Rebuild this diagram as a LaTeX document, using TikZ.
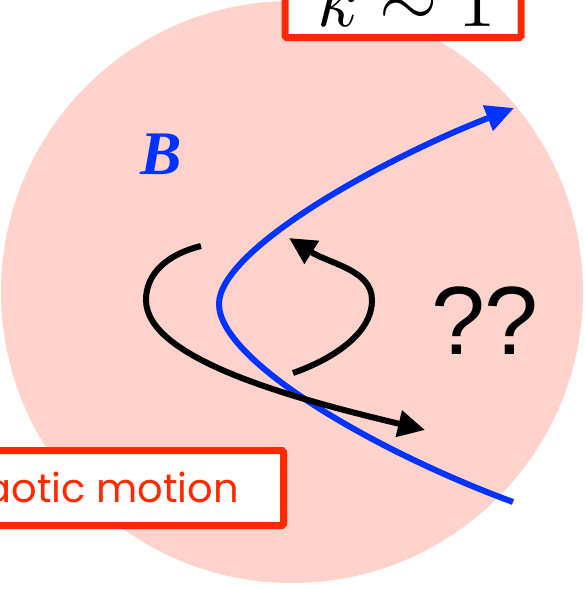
\documentclass[tikz,border=0pt]{standalone}
\usepackage{fontspec}
\newfontfamily\poppins{Poppins}
\newfontfamily\libsans{Liberation Sans}
\newfontfamily\libserif{Liberation Serif}
\usetikzlibrary{arrows.meta}
\definecolor{pinkbg}{RGB}{255,211,204}
\definecolor{boxred}{RGB}{255,40,0}
\definecolor{bblue}{RGB}{0,51,255}
\tikzset{
  redbox/.style={draw=boxred, fill=white, line width=7pt, rounded corners=1.5pt},
  fieldline/.style={draw=bblue, line width=6pt, -{Triangle[length=28pt,width=26pt]}},
  orbit/.style={draw=black, line width=6pt, line cap=butt},
  orbitarrow/.style={orbit, -{Triangle[length=27pt,width=26pt]}},
  lbl/.style={inner sep=0pt, outer sep=0pt}
}
\begin{document}
\begin{tikzpicture}[x=1pt,y=-1pt]
\useasboundingbox (0,0) rectangle (584,589);
\clip (0,0) rectangle (584,589);
\fill[pinkbg] (292,292) circle[radius=291];
% magnetic field line
\coordinate (bstart) at (513,502);
\coordinate (bturn) at (219,304);
\coordinate (bend) at (514,108);
\draw[fieldline] (bstart) .. controls (372,450) and (219,360) .. (bturn)
   .. controls (219,250) and (380,160) .. (bend);
% big orbit
\coordinate (o1s) at (201,246);
\coordinate (o1l) at (146,300);
\coordinate (o1e) at (425,430);
\draw[orbitarrow] (o1s) .. controls (165,255) and (146,275) .. (o1l)
   .. controls (146,360) and (300,400) .. (o1e);
% small loop
\coordinate (o2s) at (293,373);
\coordinate (o2r) at (372,300);
\coordinate (o2e) at (289,238);
\draw[orbitarrow] (o2s) .. controls (330,360) and (372,335) .. (o2r)
   .. controls (372,270) and (330,264) .. (o2e);
% labels
\node[lbl, anchor=base west, text=bblue] (B) at (140,174)
  {\fontsize{62}{62}\selectfont\libserif\bfseries\itshape B};
\node[lbl, anchor=base west] (qq) at (431,354)
  {\fontsize{97}{97}\selectfont\libsans ??};
% top box
\draw[redbox] (285,-20) rectangle (521,37.5);
\node[lbl, anchor=base] (kappa) at (407,26) {\scalebox{7.5}{$k\sim 1$}};
% bottom box
\draw[redbox] (-20,450.5) rectangle (283.5,525.5);
\node[lbl, anchor=base east, text=boxred] (chaos) at (239,502)
  {\fontsize{40}{40}\selectfont\poppins chaotic motion};
\end{tikzpicture}
\end{document}
